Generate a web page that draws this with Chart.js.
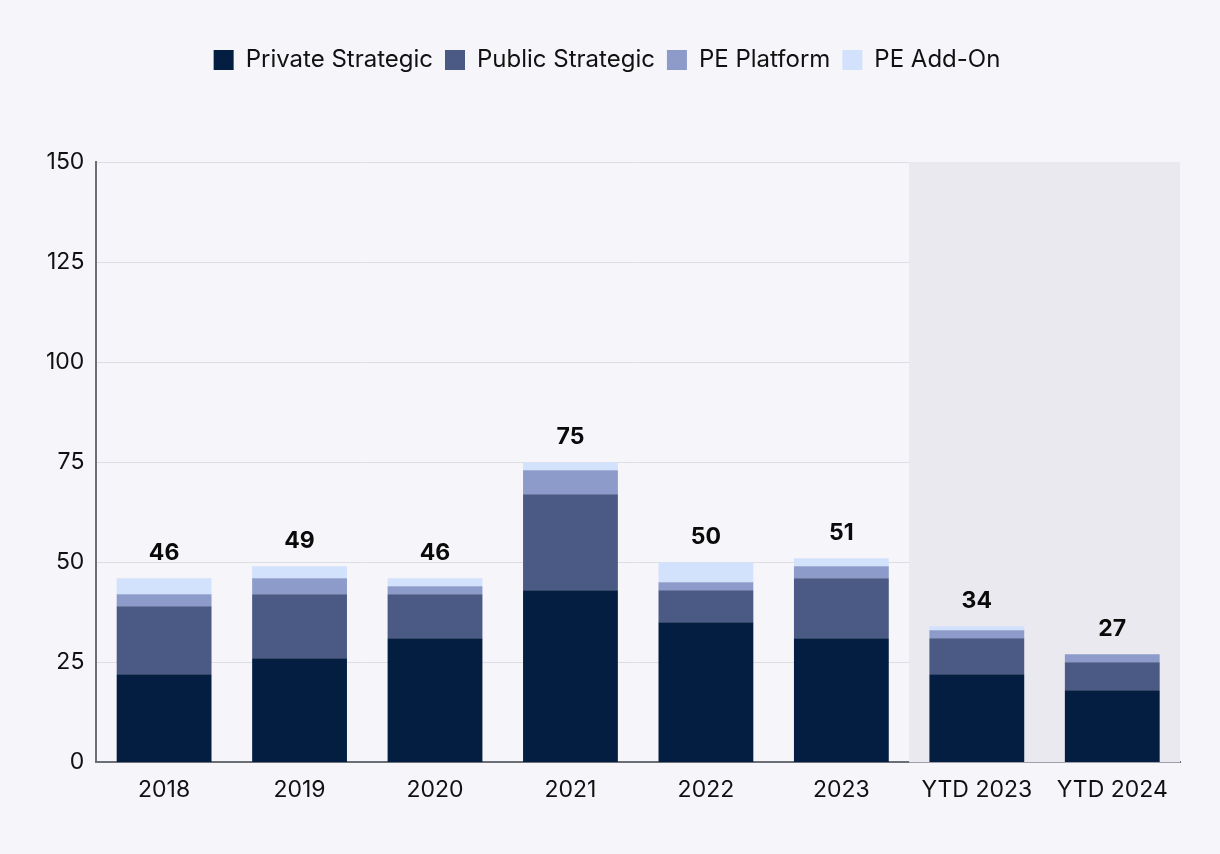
<!DOCTYPE html>
<html>
<head>
<meta charset="utf-8">
<script src="https://cdn.jsdelivr.net/npm/chart.js@4"></script>
<style>
  html, body { margin: 0; padding: 0; background: #f5f5fa; }
  #wrap { width: 1220px; height: 854px; }
</style>
</head>
<body>
<div id="wrap"><canvas id="chart" width="1220" height="854"></canvas></div>
<script>
const categories = ['2018', '2019', '2020', '2021', '2022', '2023', 'YTD 2023', 'YTD 2024'];
const privateStrategic = [22, 26, 31, 43, 35, 31, 22, 18];
const publicStrategic = [17, 16, 11, 24, 8, 15, 9, 7];
const pePlatform = [3, 4, 2, 6, 2, 3, 2, 2];
const peAddOn = [4, 3, 2, 2, 5, 2, 1, 0];
const yTicks = [0, 25, 50, 75, 100, 125, 150];

const font = 'Inter, "Noto Sans", sans-serif';

// extra room under the legend
const legendGap = {
    id: 'legendGap',
    beforeInit(chart) {
        const fit = chart.legend.fit;
        chart.legend.fit = function () {
            fit.bind(chart.legend)();
            this.height += 80;
        };
    }
};

// grey panel behind the YTD bars
const shadePlugin = {
    id: 'shade',
    beforeDatasetsDraw(chart) {
        const x = chart.scales.x;
        const area = chart.chartArea;
        const left = (x.getPixelForValue(5) + x.getPixelForValue(6)) / 2;
        const ctx = chart.ctx;
        ctx.save();
        ctx.fillStyle = '#eae9ef';
        ctx.fillRect(left, area.top, area.right - left, area.bottom - area.top);
        ctx.restore();
    }
};

// totals above each stack
const totalsPlugin = {
    id: 'totals',
    afterDatasetsDraw(chart) {
        const ctx = chart.ctx;
        const x = chart.scales.x;
        const y = chart.scales.y;
        ctx.save();
        ctx.font = 'bold 23px ' + font;
        ctx.fillStyle = '#0a0a0a';
        ctx.textAlign = 'center';
        ctx.textBaseline = 'bottom';
        categories.forEach((c, i) => {
            const total = privateStrategic[i] + publicStrategic[i] + pePlatform[i] + peAddOn[i];
            ctx.fillText(total, x.getPixelForValue(i), y.getPixelForValue(total) - 14);
        });
        ctx.restore();
    }
};

const ctx = document.getElementById('chart');
new Chart(ctx, {
    type: 'bar',
    data: {
        labels: categories,
        datasets: [
            { label: 'Private Strategic', data: privateStrategic, backgroundColor: '#041e42' },
            { label: 'Public Strategic', data: publicStrategic, backgroundColor: '#4a5a84' },
            { label: 'PE Platform', data: pePlatform, backgroundColor: '#8c9bc9' },
            { label: 'PE Add-On', data: peAddOn, backgroundColor: '#d3e2fc' }
        ]
    },
    options: {
        responsive: false,
        animation: false,
        barPercentage: 0.7,
        categoryPercentage: 1,
        layout: { padding: { left: 34, right: 40, top: 36, bottom: 36 } },
        plugins: {
            legend: {
                position: 'top',
                labels: {
                    boxWidth: 20,
                    boxHeight: 20,
                    padding: 12,
                    color: '#111',
                    font: { family: font, size: 24 }
                }
            },
            tooltip: { enabled: false }
        },
        scales: {
            x: {
                stacked: true,
                grid: { display: false, drawTicks: false },
                border: { color: '#6b6e75', width: 2 },
                ticks: { color: '#111', padding: 14, font: { family: font, size: 23 } }
            },
            y: {
                stacked: true,
                min: 0,
                max: 150,
                afterBuildTicks(axis) { axis.ticks = yTicks.map(v => ({ value: v })); },
                grid: { color: '#dddde3', drawTicks: false },
                border: { color: '#6b6e75', width: 2 },
                ticks: { color: '#111', padding: 12, font: { family: font, size: 23 } }
            }
        }
    },
    plugins: [legendGap, shadePlugin, totalsPlugin]
});
</script>
</body>
</html>
